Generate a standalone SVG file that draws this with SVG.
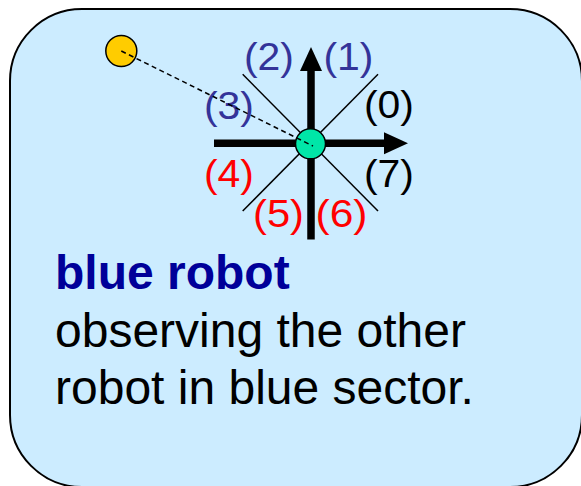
<svg xmlns="http://www.w3.org/2000/svg" width="581" height="486" viewBox="0 0 581 486">
<style>
.lbl{font-family:"Liberation Sans",Arial,sans-serif;font-size:39px}
.blue{fill:#333399}
.red{fill:#FF0000}
.blk{fill:#000000}
.main{font-family:"Liberation Sans",Arial,sans-serif;font-size:48px;fill:#000000}
.diag{stroke:#000;stroke-width:1.5;fill:none}
.axis{stroke:#000;stroke-width:7.5;fill:none}
</style>
<defs>
<marker id="ah" markerUnits="userSpaceOnUse" markerWidth="26" markerHeight="24" refX="0" refY="11" orient="auto" viewBox="0 0 26 24">
<path d="M0,0 L24,11 L0,22 Z" fill="#000"/>
</marker>
</defs>
<g id="panel">
<rect x="10" y="9" width="572" height="478" rx="72" ry="72" fill="#CCECFF" stroke="#000" stroke-width="2"/>
</g>
<g id="sectors">
<line class="diag" x1="242.7" y1="74.3" x2="378" y2="211"/>
<line class="diag" x1="378" y1="74.3" x2="242.7" y2="211"/>
</g>
<g id="axes">
<line class="axis" x1="214" y1="143.3" x2="384" y2="143.3" marker-end="url(#ah)"/>
<line class="axis" x1="311" y1="239.5" x2="311" y2="71" marker-end="url(#ah)"/>
</g>
<g id="other-robot">
<circle cx="121.3" cy="51" r="15.5" fill="#FFCC00" stroke="#000" stroke-width="1.5"/>
</g>
<g id="blue-robot">
<circle cx="310.5" cy="143.8" r="15" fill="#00E6A8" stroke="#000" stroke-width="1.5"/>
</g>
<g id="sector-labels">
<text class="lbl blue" x="244" y="70" textLength="50" lengthAdjust="spacingAndGlyphs">(2)</text>
<text class="lbl blue" x="323.5" y="70" textLength="50" lengthAdjust="spacingAndGlyphs">(1)</text>
<text class="lbl blk" x="364" y="118" textLength="50" lengthAdjust="spacingAndGlyphs">(0)</text>
<text class="lbl blue" x="204" y="119" textLength="50" lengthAdjust="spacingAndGlyphs">(3)</text>
<text class="lbl red" x="204" y="187" textLength="50" lengthAdjust="spacingAndGlyphs">(4)</text>
<text class="lbl blk" x="364" y="187" textLength="50" lengthAdjust="spacingAndGlyphs">(7)</text>
<text class="lbl red" x="253" y="227" textLength="51" lengthAdjust="spacingAndGlyphs">(5)</text>
<text class="lbl red" x="315.5" y="227" textLength="52" lengthAdjust="spacingAndGlyphs">(6)</text>
</g>
<g id="connectors">
<line x1="121.3" y1="51" x2="313" y2="146" stroke="#000" stroke-width="1.5" stroke-dasharray="5,3.5"/>
</g>
<g id="caption">
<text class="main" x="55" y="289" font-weight="bold" style="fill:#000099">blue robot</text>
<text class="main" x="55" y="346.5">observing the other</text>
<text class="main" x="55" y="404">robot in blue sector.</text>
</g>
</svg>
